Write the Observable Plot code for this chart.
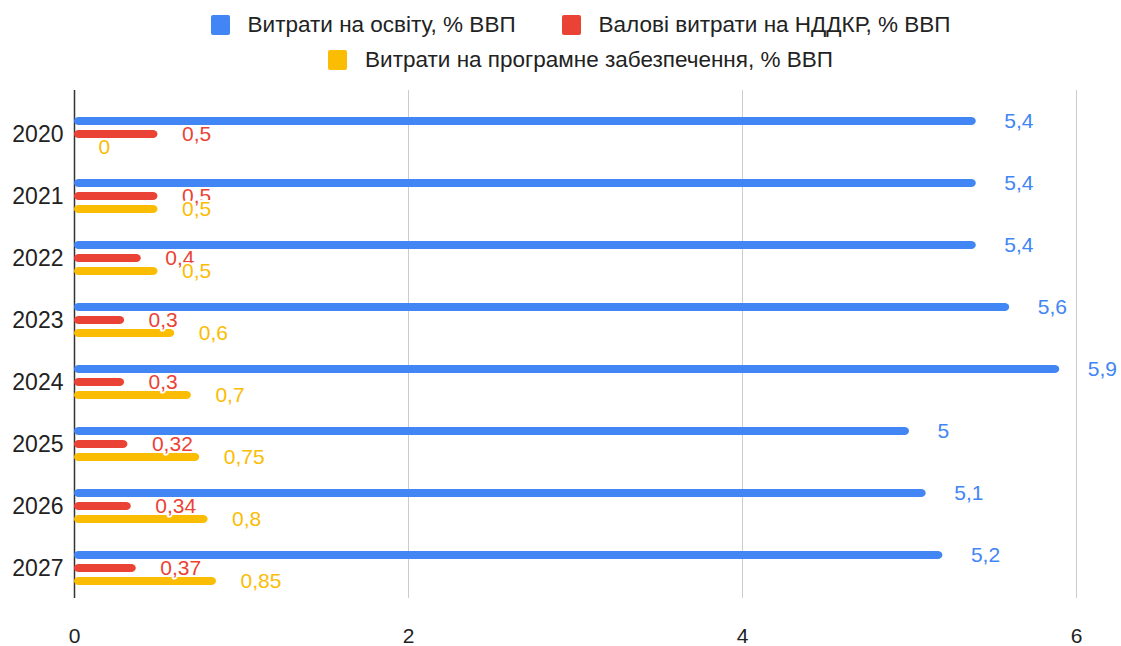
<!DOCTYPE html>
<html>
<head>
<meta charset="utf-8">
<script src="https://cdn.jsdelivr.net/npm/d3@7"></script>
<script src="https://cdn.jsdelivr.net/npm/@observablehq/plot@0.6"></script>
<style>
  html, body { margin: 0; padding: 0; background: #fff; }
  body { width: 1121px; height: 646px; overflow: hidden; font-family: "Liberation Sans", Arial, sans-serif; }
  #legend { margin-left: 74px; width: 1013px; height: 80px; padding-top: 7px; box-sizing: border-box; }
  .row { display: flex; justify-content: center; align-items: center; height: 35px; }
  .item { display: flex; align-items: center; margin: 0 23px; font-size: 22.5px; color: #222; }
  .sw { width: 19px; height: 20px; border-radius: 2px; margin-right: 18px; }
  #chart svg { display: block; }
</style>
</head>
<body>
<div id="legend"></div>
<div id="chart"></div>
<script>
const years = ["2020", "2021", "2022", "2023", "2024", "2025", "2026", "2027"];
const seriesNames = ["Витрати на освіту, % ВВП", "Валові витрати на НДДКР, % ВВП", "Витрати на програмне забезпечення, % ВВП"];
const seriesColors = ["#4285F4", "#EA4335", "#FBBC04"];
const education = [5.4, 5.4, 5.4, 5.6, 5.9, 5.0, 5.1, 5.2];
const rnd = [0.5, 0.5, 0.4, 0.3, 0.3, 0.32, 0.34, 0.37];
const software = [0, 0.5, 0.5, 0.6, 0.7, 0.75, 0.8, 0.85];
const xTicks = [0, 2, 4, 6];
const legendRows = [[0, 1], [2]];

// legend
const legend = document.getElementById("legend");
for (const row of legendRows) {
  const r = document.createElement("div");
  r.className = "row";
  for (const i of row) {
    const it = document.createElement("div");
    it.className = "item";
    const sw = document.createElement("div");
    sw.className = "sw";
    sw.style.background = seriesColors[i];
    const tx = document.createElement("span");
    tx.textContent = seriesNames[i];
    it.appendChild(sw); it.appendChild(tx);
    r.appendChild(it);
  }
  legend.appendChild(r);
}

const seriesValues = [education, rnd, software];
const offsets = [-13, 0, 13];
const labelDx = [28, 24, 24];
const fmt = v => String(v).replace(".", ",");

const marks = [
  Plot.ruleX(xTicks.filter(d => d !== 0), {stroke: "#cccccc", strokeWidth: 1, insetBottom: 14}),
  Plot.ruleX([0], {stroke: "#333", strokeWidth: 1.5, insetBottom: 14}),
];
seriesValues.forEach((vals, s) => {
  const rows = years.map((y, i) => ({year: y, v: vals[i]}));
  marks.push(Plot.barX(rows, {x: "v", y: "year", fill: seriesColors[s], insetTop: 15, insetBottom: 15, dy: offsets[s], rx: 4.5}));
});
seriesValues.forEach((vals, s) => {
  const rows = years.map((y, i) => ({year: y, v: vals[i]}));
  marks.push(Plot.text(rows, {x: "v", y: "year", text: d => fmt(d.v), fill: seriesColors[s], stroke: "white", strokeWidth: 4, textAnchor: "start", dx: labelDx[s], dy: offsets[s], fontSize: 21}));
});
marks.push(Plot.axisX(xTicks, {tickSize: 0, tickPadding: 16, fontSize: 21, color: "#222", tickFormat: d => String(d)}));
marks.push(Plot.axisY(years, {tickSize: 0, tickPadding: 11, fontSize: 23, color: "#222"}));

const chart = Plot.plot({
  width: 1121,
  height: 566,
  marginLeft: 74,
  marginRight: 45,
  marginTop: 10,
  marginBottom: 34,
  x: {domain: [0, 6], label: null},
  y: {domain: years, paddingInner: 0.38, paddingOuter: 0.342, label: null},
  style: {fontFamily: "'Liberation Sans', Arial, sans-serif", fontSize: "21px", color: "#222", background: "white", overflow: "visible"},
  marks
});
document.getElementById("chart").appendChild(chart);
</script>
</body>
</html>
